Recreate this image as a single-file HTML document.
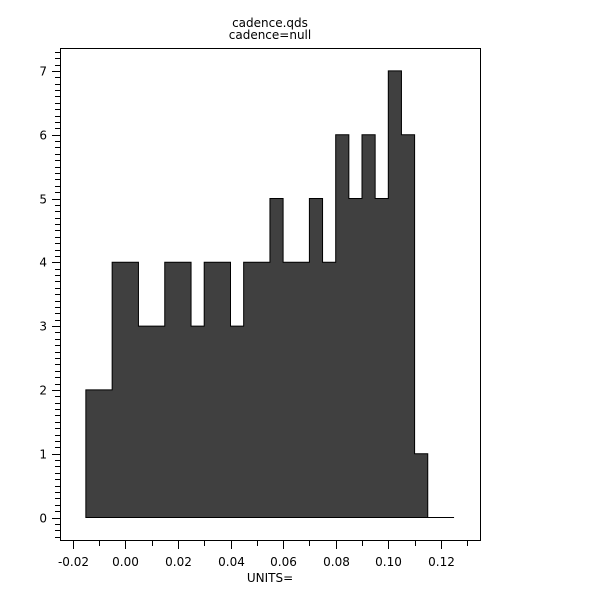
<!DOCTYPE html>
<html><head><meta charset="utf-8"><style>body{margin:0;background:#fff}svg{display:block}</style></head><body>
<svg width="600" height="600" xmlns="http://www.w3.org/2000/svg" font-family="DejaVu Sans, Liberation Sans, sans-serif" font-size="12">
<text x="270" y="27" text-anchor="middle">cadence.qds</text>
<text x="270" y="39" text-anchor="middle">cadence=null</text>
<g id="bars"></g>
<rect x="60.5" y="48.5" width="420" height="492" fill="none" stroke="#000" stroke-width="1"/>
<g id="ticks" stroke="#000" stroke-width="1"></g>
<g id="labels"></g>
<text x="270" y="582" text-anchor="middle">UNITS=</text>
<script>
var ns="http://www.w3.org/2000/svg";
function X(v){return 125.3+v*2630;}
function Y(n){return 517.5-63.8*n;}
var bins=[[-0.015,-0.005,2],[-0.005,0.005,4],[0.005,0.015,3],[0.015,0.025,4],[0.025,0.03,3],[0.03,0.04,4],[0.04,0.045,3],[0.045,0.055,4],[0.055,0.06,5],[0.06,0.07,4],[0.07,0.075,5],[0.075,0.08,4],[0.08,0.085,6],[0.085,0.09,5],[0.09,0.095,6],[0.095,0.1,5],[0.1,0.105,7],[0.105,0.11,6],[0.11,0.115,1]];
var d="M"+X(-0.015)+","+Y(0);
bins.forEach(function(b){d+=" L"+X(b[0])+","+Y(b[2])+" L"+X(b[1])+","+Y(b[2]);});
d+=" L"+X(0.115)+","+Y(0)+" Z";
var p=document.createElementNS(ns,"path");p.setAttribute("d",d);p.setAttribute("fill","#404040");p.setAttribute("stroke","#000");
document.getElementById("bars").appendChild(p);
var l=document.createElementNS(ns,"line");l.setAttribute("x1",X(0.115));l.setAttribute("x2",X(0.125));l.setAttribute("y1",Y(0));l.setAttribute("y2",Y(0));l.setAttribute("stroke","#000");
document.getElementById("bars").appendChild(l);
var t=document.getElementById("ticks"),lb=document.getElementById("labels");
function line(x1,y1,x2,y2){var e=document.createElementNS(ns,"line");e.setAttribute("x1",x1);e.setAttribute("y1",y1);e.setAttribute("x2",x2);e.setAttribute("y2",y2);t.appendChild(e);}
function txt(x,y,s,a){var e=document.createElementNS(ns,"text");e.setAttribute("x",x);e.setAttribute("y",y);e.setAttribute("text-anchor",a);e.textContent=s;lb.appendChild(e);}
for(var i=-3;i<=73;i++){var y=Math.round(Y(i/10))+0.5;if(y>540||y<48)continue;if(i%10==0){line(52,y,60,y);txt(47,y+4,String(i/10),"end");}else line(55,y,60,y);}
for(var j=-2;j<=13;j++){var x=Math.round(X(j/100))+0.5;if(j%2==0){line(x,541,x,549);txt(x,566,(j/100).toFixed(2),"middle");}else line(x,541,x,546);}
</script>
</svg>
</body></html>
